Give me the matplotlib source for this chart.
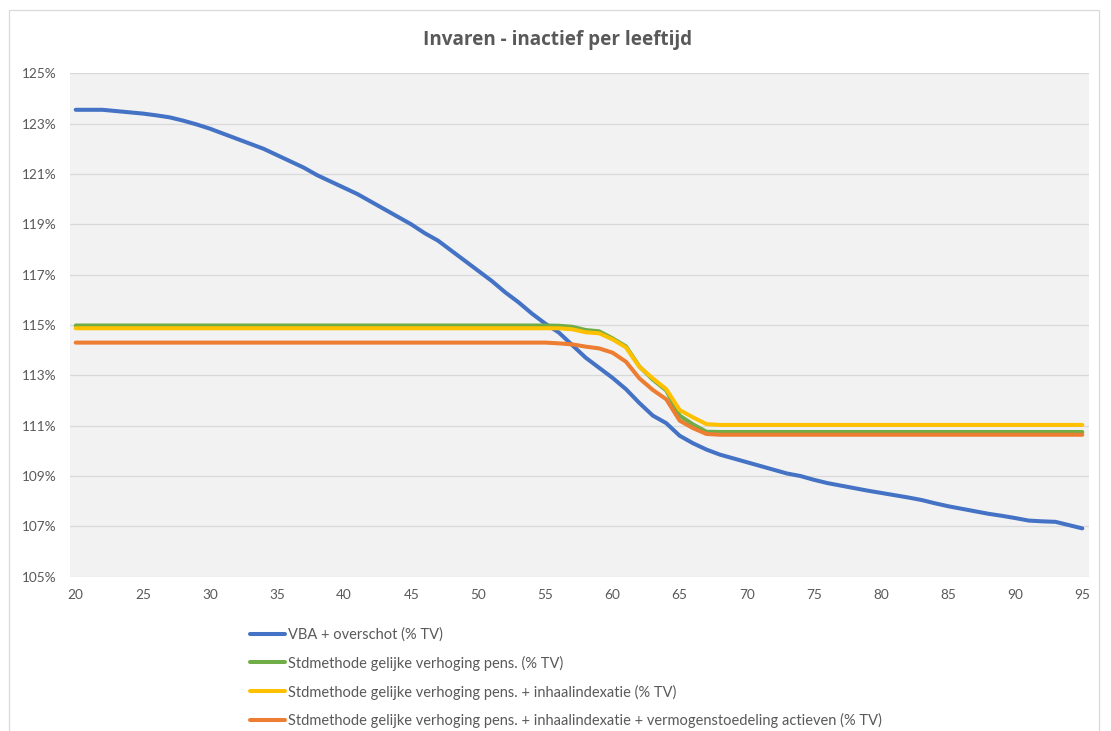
import matplotlib
matplotlib.use("Agg")
import matplotlib.pyplot as plt
from matplotlib.patches import Rectangle
from matplotlib.ticker import FuncFormatter

# leeftijden (categorie-as)
leeftijd = list(range(20, 96))

vba = [
    123.55, 123.55, 123.55, 123.50, 123.45, 123.40, 123.33, 123.25, 123.12, 122.97,
    122.80, 122.60, 122.40, 122.20, 122.00, 121.75, 121.50, 121.25, 120.95, 120.70,
    120.45, 120.20, 119.90, 119.60, 119.30, 119.00, 118.65, 118.35, 117.95, 117.55,
    117.15, 116.75, 116.30, 115.90, 115.45, 115.05, 114.70, 114.20, 113.70, 113.30,
    112.90, 112.45, 111.90, 111.40, 111.10, 110.60, 110.30, 110.05, 109.85, 109.70,
    109.55, 109.40, 109.25, 109.10, 109.00, 108.85, 108.72, 108.62, 108.52, 108.42,
    108.33, 108.24, 108.15, 108.05, 107.92, 107.80, 107.70, 107.60, 107.50, 107.42,
    107.33, 107.23, 107.20, 107.18, 107.05, 106.92,
]

std = [
    114.98, 114.98, 114.98, 114.98, 114.98, 114.98, 114.98, 114.98, 114.98, 114.98,
    114.98, 114.98, 114.98, 114.98, 114.98, 114.98, 114.98, 114.98, 114.98, 114.98,
    114.98, 114.98, 114.98, 114.98, 114.98, 114.98, 114.98, 114.98, 114.98, 114.98,
    114.98, 114.98, 114.98, 114.98, 114.98, 114.98, 114.97, 114.93, 114.80, 114.75,
    114.47, 114.15, 113.35, 112.83, 112.40, 111.40, 111.05, 110.76, 110.75, 110.75,
    110.75, 110.75, 110.75, 110.75, 110.75, 110.75, 110.75, 110.75, 110.75, 110.75,
    110.75, 110.75, 110.75, 110.75, 110.75, 110.75, 110.75, 110.75, 110.75, 110.75,
    110.75, 110.75, 110.75, 110.75, 110.75, 110.75,
]

std_inhaal = [
    114.87, 114.87, 114.87, 114.87, 114.87, 114.87, 114.87, 114.87, 114.87, 114.87,
    114.87, 114.87, 114.87, 114.87, 114.87, 114.87, 114.87, 114.87, 114.87, 114.87,
    114.87, 114.87, 114.87, 114.87, 114.87, 114.87, 114.87, 114.87, 114.87, 114.87,
    114.87, 114.87, 114.87, 114.87, 114.87, 114.87, 114.87, 114.83, 114.71, 114.67,
    114.43, 114.11, 113.34, 112.88, 112.45, 111.62, 111.33, 111.06, 111.03, 111.03,
    111.03, 111.03, 111.03, 111.03, 111.03, 111.03, 111.03, 111.03, 111.03, 111.03,
    111.03, 111.03, 111.03, 111.03, 111.03, 111.03, 111.03, 111.03, 111.03, 111.03,
    111.03, 111.03, 111.03, 111.03, 111.03, 111.03,
]

std_inhaal_verm = [
    114.30, 114.30, 114.30, 114.30, 114.30, 114.30, 114.30, 114.30, 114.30, 114.30,
    114.30, 114.30, 114.30, 114.30, 114.30, 114.30, 114.30, 114.30, 114.30, 114.30,
    114.30, 114.30, 114.30, 114.30, 114.30, 114.30, 114.30, 114.30, 114.30, 114.30,
    114.30, 114.30, 114.30, 114.30, 114.30, 114.30, 114.27, 114.23, 114.14, 114.07,
    113.90, 113.54, 112.88, 112.42, 112.05, 111.20, 110.90, 110.67, 110.64, 110.64,
    110.64, 110.64, 110.64, 110.64, 110.64, 110.64, 110.64, 110.64, 110.64, 110.64,
    110.64, 110.64, 110.64, 110.64, 110.64, 110.64, 110.64, 110.64, 110.64, 110.64,
    110.64, 110.64, 110.64, 110.64, 110.64, 110.64,
]

labels = [
    "VBA + overschot (% TV)",
    "Stdmethode gelijke verhoging pens. (% TV)",
    "Stdmethode gelijke verhoging pens. + inhaalindexatie (% TV)",
    "Stdmethode gelijke verhoging pens. + inhaalindexatie + vermogenstoedeling actieven (% TV)",
]
kleuren = ["#4472C4", "#70AD47", "#FFC000", "#ED7D31"]

plt.rcParams["font.family"] = ["Lato", "DejaVu Sans"]
tekstkleur = "#595959"

W, H = 1111, 731
fig = plt.figure(figsize=(W / 100, H / 100), dpi=100)

# rand van het grafiekgebied
fig.patches.append(Rectangle((9 / W, -0.05), (1099 - 9) / W, 1.05 - 9.5 / H,
                             transform=fig.transFigure, fill=False,
                             edgecolor="#D9D9D9", linewidth=0.9))

ax = fig.add_axes([70 / W, 1 - 576.7 / H, (1089 - 70) / W, (576.7 - 73.3) / H])
ax.set_facecolor("#F2F2F2")

for reeks, kleur, naam in zip([vba, std, std_inhaal, std_inhaal_verm], kleuren, labels):
    ax.plot(leeftijd, reeks, color=kleur, linewidth=2.9, label=naam,
            solid_capstyle="round", solid_joinstyle="round")

ax.set_xlim(19.575, 95.5)
ax.set_ylim(105, 125)
ax.set_xticks(range(20, 96, 5))
ax.set_yticks(range(105, 126, 2))
ax.yaxis.set_major_formatter(FuncFormatter(lambda v, p: f"{v:.0f}%"))
ax.grid(axis="y", color="#D9D9D9", linewidth=0.9)
ax.set_axisbelow(True)
for s in ax.spines.values():
    s.set_visible(False)
ax.tick_params(axis="both", length=0, labelsize=9.8, colors=tekstkleur)
ax.tick_params(axis="x", pad=8.5)
ax.tick_params(axis="y", pad=9.5)

fig.text(558 / W, 1 - 40 / H, "Invaren - inactief per leeftijd",
         ha="center", va="center", fontsize=13.6, fontweight="bold",
         color=tekstkleur, family=["Open Sans", "DejaVu Sans"])

leg = fig.legend(loc="upper left", bbox_to_anchor=(244 / W, 1 - 621.5 / H),
                 frameon=False, fontsize=10.5, handlelength=2.4, handletextpad=0.25,
                 labelspacing=0.95, borderaxespad=0)
for t in leg.get_texts():
    t.set_color(tekstkleur)

fig.savefig("out.png", dpi=100, facecolor="white")
